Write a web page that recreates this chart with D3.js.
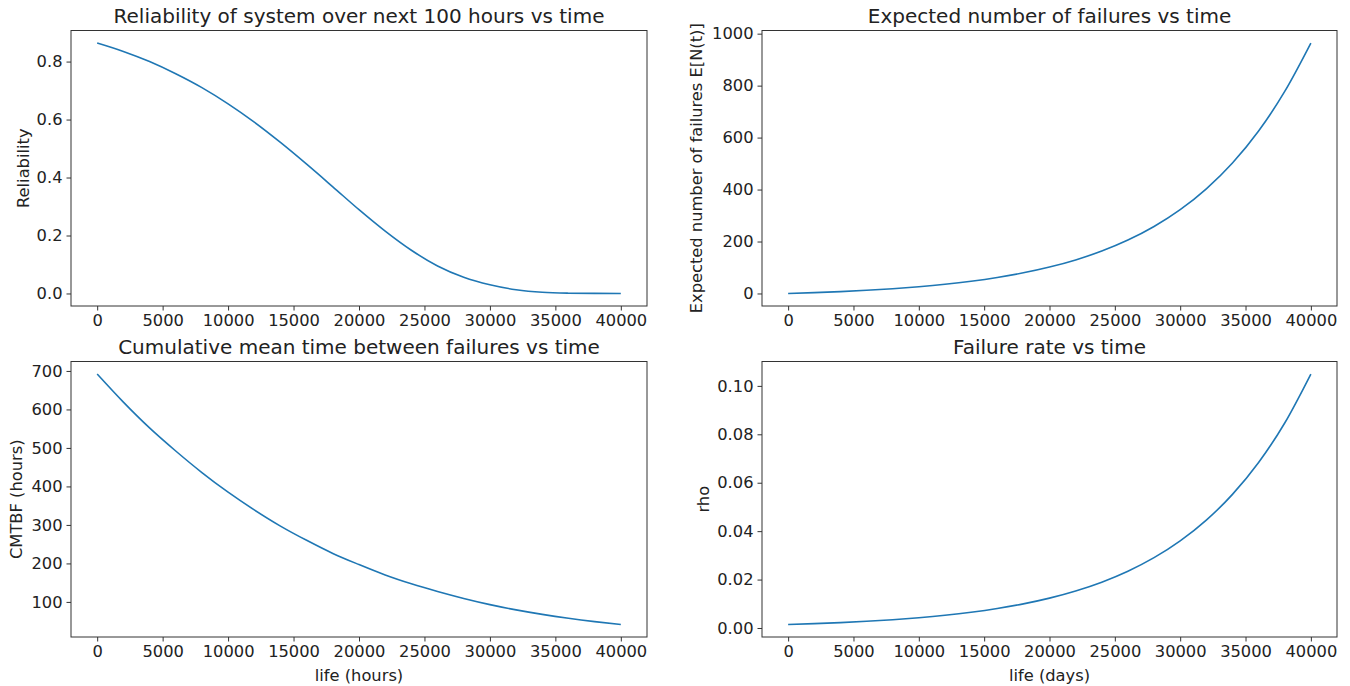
<!DOCTYPE html>
<html>
<head>
<meta charset="utf-8">
<script src="https://cdn.jsdelivr.net/npm/d3@7"></script>
<style>
  body { margin: 0; background: #fff; }
  svg text { font-family: "DejaVu Sans", sans-serif; fill: #222; }
</style>
</head>
<body>
<div id="chart"></div>
<script>
// data, one point every 2000 hours
const hours = [0, 2000, 4000, 6000, 8000, 10000, 12000, 14000, 16000, 18000, 20000,
  22000, 24000, 26000, 28000, 30000, 32000, 34000, 36000, 38000, 40000];

const reliability = [0.864, 0.835, 0.800, 0.758, 0.710, 0.654, 0.591, 0.521, 0.446, 0.368, 0.289,
  0.215, 0.149, 0.095, 0.056, 0.030, 0.013, 0.004, 0.001, 0.0002, 0.0];

const expectedFailures = [0, 3.2, 7.2, 12.2, 18.4, 26.0, 35.4, 47.1, 61.6, 79.5, 101.7,
  129.2, 163.3, 205.5, 257.8, 322.5, 402.8, 502.2, 625.3, 777.8, 964];

const cmtbf = [692, 619, 552, 492, 436, 385, 339, 297, 260, 226, 197,
  170, 147, 127, 109, 93, 79.4, 67.7, 57.6, 48.9, 41.4];

const failureRate = [0.00145, 0.00180, 0.00223, 0.00276, 0.00341, 0.00423, 0.00524, 0.00649, 0.00804, 0.00996, 0.01233,
  0.01528, 0.01892, 0.02344, 0.02904, 0.03597, 0.04455, 0.05519, 0.06836, 0.08468, 0.1049];

const xTicks = [0, 5000, 10000, 15000, 20000, 25000, 30000, 35000, 40000];
const reliabilityTicks = [0, 0.2, 0.4, 0.6, 0.8];
const failureTicks = [0, 200, 400, 600, 800, 1000];
const cmtbfTicks = [100, 200, 300, 400, 500, 600, 700];
const rateTicks = [0, 0.02, 0.04, 0.06, 0.08, 0.10];

const W = 1350, H = 686;
const tickFont = 16.3, titleFont = 20;

const svg = d3.select("#chart").append("svg")
  .attr("width", W)
  .attr("height", H);

// matplotlib style 5% margin around the data
function padded(arr) {
  const [lo, hi] = d3.extent(arr);
  const m = (hi - lo) * 0.05;
  return [lo - m, hi + m];
}

function panel(opts) {
  const { left, right, top, bottom, ys, yTicks, yFmt, title, ylabel, ylabelX, xlabel } = opts;
  const g = svg.append("g");

  const x = d3.scaleLinear().domain(padded(hours)).range([left, right]);
  const y = d3.scaleLinear().domain(padded(ys)).range([bottom, top]);

  const xAxis = d3.axisBottom(x).tickValues(xTicks).tickFormat(d3.format("d"))
    .tickSize(4.5).tickPadding(4);
  const yAxis = d3.axisLeft(y).tickValues(yTicks).tickFormat(yFmt)
    .tickSize(4.5).tickPadding(4);

  g.append("g").attr("transform", `translate(0,${bottom})`).call(xAxis)
    .call(a => a.select(".domain").remove())
    .call(a => a.selectAll("line").attr("stroke", "#333"))
    .call(a => a.selectAll("text").attr("font-size", tickFont).attr("fill", "#222").attr("font-family", "DejaVu Sans"));

  g.append("g").attr("transform", `translate(${left},0)`).call(yAxis)
    .call(a => a.select(".domain").remove())
    .call(a => a.selectAll("line").attr("stroke", "#333"))
    .call(a => a.selectAll("text").attr("font-size", tickFont).attr("fill", "#222").attr("font-family", "DejaVu Sans"));

  g.append("rect")
    .attr("x", left).attr("y", top)
    .attr("width", right - left).attr("height", bottom - top)
    .attr("fill", "none").attr("stroke", "#333").attr("stroke-width", 1);

  const line = d3.line()
    .x((d, i) => x(hours[i]))
    .y(d => y(d))
    .curve(d3.curveMonotoneX);

  g.append("path")
    .datum(ys)
    .attr("d", line)
    .attr("fill", "none")
    .attr("stroke", "#1f77b4")
    .attr("stroke-width", 1.6);

  g.append("text")
    .attr("x", (left + right) / 2).attr("y", top - 7.5)
    .attr("text-anchor", "middle")
    .attr("font-size", titleFont)
    .text(title);

  g.append("text")
    .attr("transform", `translate(${ylabelX},${(top + bottom) / 2}) rotate(-90)`)
    .attr("text-anchor", "middle")
    .attr("font-size", tickFont)
    .text(ylabel);

  if (xlabel) {
    g.append("text")
      .attr("x", (left + right) / 2).attr("y", bottom + 44)
      .attr("text-anchor", "middle")
      .attr("font-size", tickFont)
      .text(xlabel);
  }
}

panel({
  left: 71, right: 647, top: 30.5, bottom: 306,
  ys: reliability, yTicks: reliabilityTicks, yFmt: d3.format(".1f"),
  title: "Reliability of system over next 100 hours vs time",
  ylabel: "Reliability", ylabelX: 28.5
});

panel({
  left: 762, right: 1337, top: 30.5, bottom: 306,
  ys: expectedFailures, yTicks: failureTicks, yFmt: d3.format("d"),
  title: "Expected number of failures vs time",
  ylabel: "Expected number of failures E[N(t)]", ylabelX: 702
});

panel({
  left: 71, right: 647, top: 361.5, bottom: 637,
  ys: cmtbf, yTicks: cmtbfTicks, yFmt: d3.format("d"),
  title: "Cumulative mean time between failures vs time",
  ylabel: "CMTBF (hours)", ylabelX: 22, xlabel: "life (hours)"
});

panel({
  left: 762, right: 1337, top: 361.5, bottom: 637,
  ys: failureRate, yTicks: rateTicks, yFmt: d3.format(".2f"),
  title: "Failure rate vs time",
  ylabel: "rho", ylabelX: 709, xlabel: "life (days)"
});
</script>
</body>
</html>
